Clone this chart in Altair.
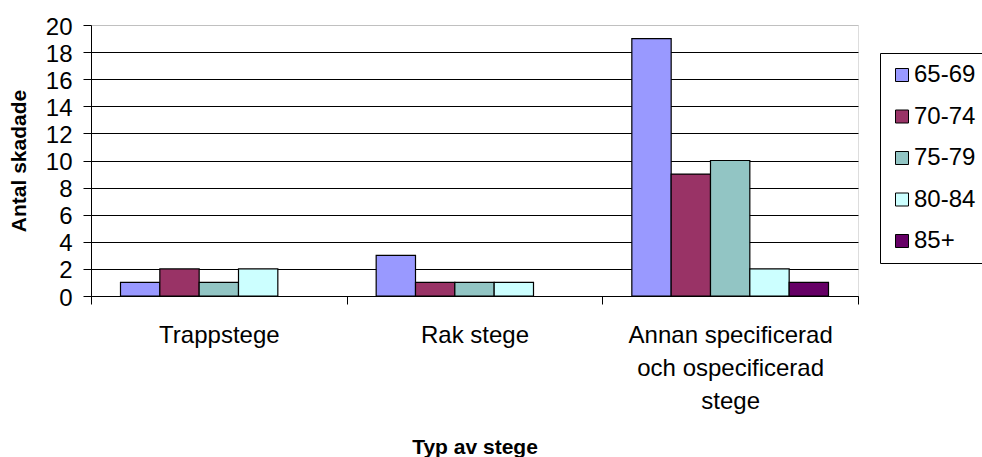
import altair as alt
import pandas as pd

# Injured persons by ladder type and age group
categories = ["Trappstege", "Rak stege", "Annan specificerad och ospecificerad stege"]
category_lines = [["Trappstege"], ["Rak stege"], ["Annan specificerad", "och ospecificerad", "stege"]]
age_groups = ["65-69", "70-74", "75-79", "80-84", "85+"]
v_65_69 = [1, 3, 19]
v_70_74 = [2, 1, 9]
v_75_79 = [1, 1, 10]
v_80_84 = [2, 1, 2]
v_85_plus = [0, 0, 1]
colors = ["#9999FF", "#993366", "#92C5C4", "#CCFFFF", "#660066"]
y_ticks = list(range(0, 21, 2))

series = [v_65_69, v_70_74, v_75_79, v_80_84, v_85_plus]
rows = []
for age, vals in zip(age_groups, series):
    for cat, v in zip(categories, vals):
        rows.append({"typ": cat, "alder": age, "antal": v})
df = pd.DataFrame(rows)

# multi-line category labels
expr = "datum.value"
for cat, lines in zip(categories, category_lines):
    arr = "[" + ", ".join("'" + l + "'" for l in lines) + "]"
    expr = f"datum.value == '{cat}' ? {arr} : ({expr})"

FONT = "Liberation Sans"

chart = alt.Chart(df).transform_filter("datum.antal > 0").mark_bar(
    stroke="black", strokeWidth=1.2
).encode(
    x=alt.X(
        "typ:N",
        sort=categories,
        scale=alt.Scale(paddingInner=0, paddingOuter=0),
        axis=alt.Axis(
            title="Typ av stege",
            titleFont=FONT,
            titleFontSize=21,
            titleFontWeight="bold",
            titleColor="black",
            titleY=157,
            titleBaseline="alphabetic",
            labelExpr=expr,
            labelFont=FONT,
            labelFontSize=24,
            labelColor="black",
            labelAngle=0,
            labelPadding=19,
            labelLineHeight=33,
            labelLimit=0,
            tickSize=8,
            tickColor="black",
            tickBand="extent",
            domainColor="black",
            grid=False,
        ),
    ),
    xOffset=alt.XOffset(
        "alder:N", sort=age_groups, scale=alt.Scale(paddingInner=0, paddingOuter=0.75)
    ),
    y=alt.Y(
        "antal:Q",
        scale=alt.Scale(domain=[0, 20], nice=False),
        axis=alt.Axis(
            values=y_ticks,
            title="Antal skadade",
            titleFont=FONT,
            titleFontSize=21,
            titleFontWeight="bold",
            titleColor="black",
            titleAngle=270,
            titleX=-66,
            titleY=135.5,
            titleBaseline="alphabetic",
            titleAlign="center",
            labelFont=FONT,
            labelFontSize=24,
            labelColor="black",
            labelPadding=11,
            labelOffset=2,
            tickSize=8,
            tickColor="black",
            domainColor="black",
            grid=True,
            gridColor=alt.condition("datum.value == 20", alt.value("#C0C0C0"), alt.value("black")),
            gridOpacity=1,
        ),
    ),
    color=alt.Color(
        "alder:N",
        scale=alt.Scale(domain=age_groups, range=colors),
        legend=alt.Legend(
            title=None,
            orient="none",
            legendX=789,
            legendY=28,
            strokeColor="black",
            fillColor="white",
            padding=10,
            symbolType="square",
            symbolSize=169,
            symbolStrokeColor="black",
            symbolStrokeWidth=1,
            symbolOpacity=1,
            labelFont=FONT,
            labelFontSize=24,
            labelColor="black",
            labelOffset=0,
            rowPadding=17.5,
        ),
    ),
).properties(
    width=767,
    height=271,
    autosize=alt.AutoSizeParams(type="none"),
    padding={"left": 91, "top": 25, "right": 124, "bottom": 161},
).configure_view(strokeWidth=0).configure(background="white")

chart.save("out.html", embed_options={"renderer": "svg", "actions": False})
